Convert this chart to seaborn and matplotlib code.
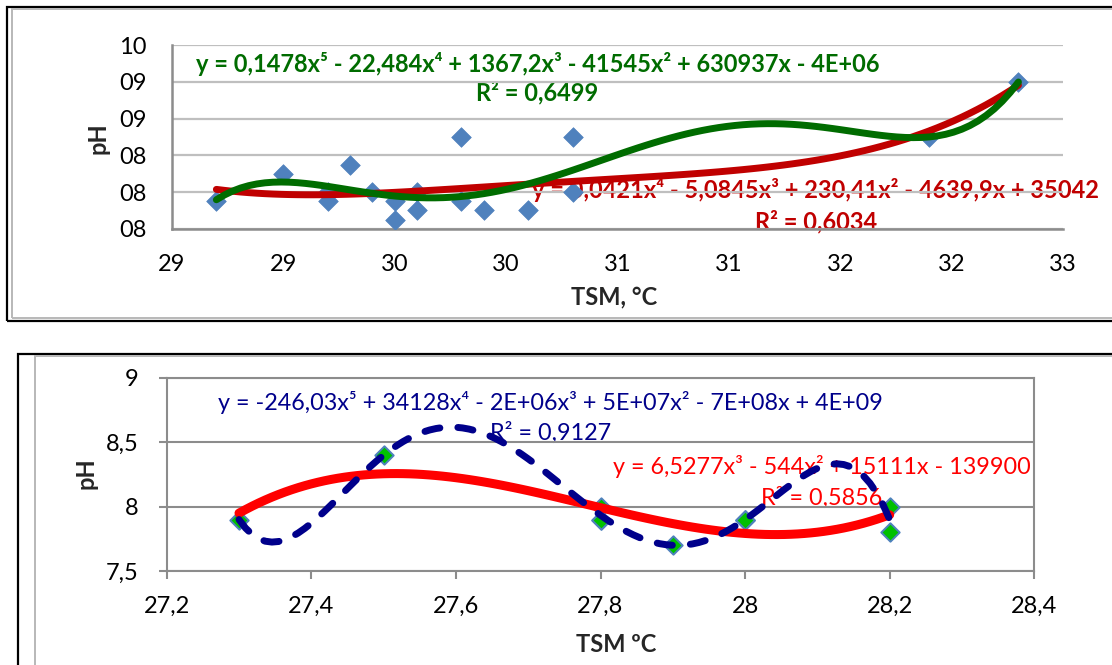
import matplotlib
matplotlib.use("Agg")
import matplotlib.pyplot as plt
import seaborn as sns
from matplotlib.patches import Rectangle

# ---------------- data ----------------
# top chart: TSM (°C) vs pH
tsm_top = [28.7, 29.0, 29.2, 29.2, 29.3, 29.4, 29.5, 29.5, 29.6, 29.6,
           29.8, 29.8, 29.9, 30.1, 30.3, 30.3, 31.9, 32.3]
ph_top = [7.9, 8.2, 8.0, 7.9, 8.3, 8.0, 7.9, 7.7, 8.0, 7.8,
          8.6, 7.9, 7.8, 7.8, 8.6, 8.0, 8.6, 9.2]
top_xticks = [28.5, 29.0, 29.5, 30.0, 30.5, 31.0, 31.5, 32.0, 32.5]
top_xlabels = ["29", "29", "30", "30", "31", "31", "32", "32", "33"]
top_yticks = [7.6, 8.0, 8.4, 8.8, 9.2, 9.6]
top_ylabels = ["08", "08", "08", "09", "09", "10"]
top_eq5 = "y = 0,1478x⁵ - 22,484x⁴ + 1367,2x³ - 41545x² + 630937x - 4E+06"
top_r5 = "R² = 0,6499"
top_eq4 = "y = 0,0421x⁴ - 5,0845x³ + 230,41x² - 4639,9x + 35042"
top_r4 = "R² = 0,6034"
top_xlabel = "TSM, °C"

# bottom chart (some points coincide)
tsm_bot = [27.3, 27.5, 27.8, 27.8, 27.8, 27.9, 28.0, 28.0, 28.0, 28.2, 28.2]
ph_bot = [7.9, 8.4, 8.0, 7.9, 7.9, 7.7, 7.9, 7.9, 7.9, 8.0, 7.8]
bot_xticks = [27.2, 27.4, 27.6, 27.8, 28.0, 28.2, 28.4]
bot_xlabels = ["27,2", "27,4", "27,6", "27,8", "28", "28,2", "28,4"]
bot_yticks = [7.5, 8.0, 8.5, 9.0]
bot_ylabels = ["7,5", "8", "8,5", "9"]
bot_eq5 = "y = -246,03x⁵ + 34128x⁴ - 2E+06x³ + 5E+07x² - 7E+08x + 4E+09"
bot_r5 = "R² = 0,9127"
bot_eq3 = "y = 6,5277x³ - 544x² + 15111x - 139900"
bot_r3 = "R² = 0,5856"
bot_xlabel = "TSM ºC"

# ---------------- style ----------------
sns.set_theme(style="white")
plt.rcParams["font.family"] = ["Lato", "DejaVu Sans"]

W, H = 1112, 665
fig = plt.figure(figsize=(W / 100, H / 100), dpi=100)
fig.patch.set_facecolor("white")


def fx(x):
    return x / W


def fy(y):
    return 1 - y / H


def frac_rect(x0, y0, x1, y1):
    return [fx(x0), fy(y1), fx(x1) - fx(x0), fy(y0) - fy(y1)]


# frames
fig.add_artist(Rectangle((fx(7), fy(321)), fx(1130) - fx(7), fy(7) - fy(321),
                         transform=fig.transFigure, fill=False, ec="black", lw=1.6))
fig.add_artist(Rectangle((fx(12), fy(318.5)), fx(1130) - fx(12), fy(9.5) - fy(318.5),
                         transform=fig.transFigure, fill=False, ec="#b8b8b8", lw=1.4))
fig.add_artist(Rectangle((fx(17.5), fy(700)), fx(1130) - fx(17.5), fy(353.5) - fy(700),
                         transform=fig.transFigure, fill=False, ec="black", lw=1.6))
fig.add_artist(Rectangle((fx(35), fy(700)), fx(1130) - fx(35), fy(356) - fy(700),
                         transform=fig.transFigure, fill=False, ec="#b8b8b8", lw=1.4))

FS = 17

# ---------------- top chart ----------------
ax1 = fig.add_axes(frac_rect(171.8, 45.3, 1063, 228.7))
sns.scatterplot(x=tsm_top, y=ph_top, marker="D", s=100, color="#4F81BD",
                edgecolor="#4F81BD", linewidth=0.5, ax=ax1, zorder=3)
sns.regplot(x=tsm_top, y=ph_top, order=4, ci=None, scatter=False, truncate=True,
            line_kws=dict(color="#C00000", lw=5, solid_capstyle="round", zorder=4), ax=ax1)
sns.regplot(x=tsm_top, y=ph_top, order=5, ci=None, scatter=False, truncate=True,
            line_kws=dict(color="#006C00", lw=5, solid_capstyle="round", zorder=5), ax=ax1)
ax1.set_xlim(top_xticks[0], top_xticks[-1])
ax1.set_ylim(top_yticks[0], top_yticks[-1])
ax1.set_xticks(top_xticks)
ax1.set_xticklabels(top_xlabels)
ax1.set_yticks(top_yticks)
ax1.set_yticklabels(top_ylabels)
ax1.set_axisbelow(True)
ax1.grid(axis="y", color="#BFBFBF", lw=1.6)
ax1.grid(axis="x", visible=False)
for s in ["top", "right"]:
    ax1.spines[s].set_visible(False)
for s in ["left", "bottom"]:
    ax1.spines[s].set_color("#8C8C8C")
    ax1.spines[s].set_linewidth(1.8)
ax1.tick_params(axis="both", length=0, labelsize=FS, colors="black")
ax1.tick_params(axis="y", pad=18)
ax1.tick_params(axis="x", pad=18)
ax1.set_xlabel("")
ax1.set_ylabel("")

fig.text(fx(98), fy(138), "pH", rotation=90, fontsize=FS, fontweight="bold",
         ha="center", va="center")
fig.text(fx(614), fy(297), top_xlabel, fontsize=FS, fontweight="bold",
         ha="center", va="center")
ax1.text(fx(537.5), fy(64), top_eq5, fontsize=17, fontweight="bold", color="#006C00",
         ha="center", va="center", transform=fig.transFigure, zorder=0.4)
ax1.text(fx(537.5), fy(93), top_r5, fontsize=17, fontweight="bold", color="#006C00",
         ha="center", va="center", transform=fig.transFigure, zorder=0.4)
ax1.text(fx(815), fy(190), top_eq4, fontsize=17, fontweight="bold", color="#C00000",
         ha="center", va="center", transform=fig.transFigure, zorder=0.4)
ax1.text(fx(816), fy(222), top_r4, fontsize=17, fontweight="bold", color="#C00000",
         ha="center", va="center", transform=fig.transFigure, zorder=0.4)

# ---------------- bottom chart ----------------
ax2 = fig.add_axes(frac_rect(166.7, 378, 1034.3, 571))
sns.scatterplot(x=tsm_bot, y=ph_bot, marker="D", s=88, color="#00C000",
                edgecolor="#4F81BD", linewidth=1.4, ax=ax2, zorder=3)
sns.regplot(x=tsm_bot, y=ph_bot, order=3, ci=None, scatter=False, truncate=True,
            line_kws=dict(color="#FF0000", lw=6.5, solid_capstyle="round", zorder=4), ax=ax2)
sns.regplot(x=tsm_bot, y=ph_bot, order=5, ci=None, scatter=False, truncate=True,
            line_kws=dict(color="#00008B", lw=5, dashes=(2.2, 2.6),
                          dash_capstyle="round", zorder=5), ax=ax2)
ax2.set_xlim(bot_xticks[0], bot_xticks[-1])
ax2.set_ylim(bot_yticks[0], bot_yticks[-1])
ax2.set_xticks(bot_xticks)
ax2.set_xticklabels(bot_xlabels)
ax2.set_yticks(bot_yticks)
ax2.set_yticklabels(bot_ylabels)
ax2.set_axisbelow(True)
ax2.grid(axis="y", color="#8C8C8C", lw=1.5)
ax2.grid(axis="x", visible=False)
for s in ["top", "right", "left", "bottom"]:
    ax2.spines[s].set_visible(True)
    ax2.spines[s].set_color("#8C8C8C")
    ax2.spines[s].set_linewidth(1.5)
ax2.tick_params(axis="both", direction="out", length=6, width=1.5,
                color="#8C8C8C", labelsize=FS, labelcolor="black",
                bottom=True, left=True)
ax2.tick_params(axis="y", pad=14)
ax2.tick_params(axis="x", pad=12)
ax2.set_xlabel("")
ax2.set_ylabel("")

fig.text(fx(86), fy(473), "pH", rotation=90, fontsize=FS, fontweight="bold",
         ha="center", va="center")
fig.text(fx(616), fy(645), bot_xlabel, fontsize=FS, fontweight="bold",
         ha="center", va="center")
ax2.text(fx(550.6), fy(402), bot_eq5, fontsize=16.8, color="#00008B",
         ha="center", va="center", transform=fig.transFigure, zorder=0.4)
ax2.text(fx(551), fy(433), bot_r5, fontsize=16.8, color="#00008B",
         ha="center", va="center", transform=fig.transFigure, zorder=0.4)
ax2.text(fx(821.5), fy(466), bot_eq3, fontsize=16.8, color="#FF0000",
         ha="center", va="center", transform=fig.transFigure, zorder=0.4)
ax2.text(fx(821.5), fy(498), bot_r3, fontsize=16.8, color="#FF0000",
         ha="center", va="center", transform=fig.transFigure, zorder=0.4)

fig.savefig("out.png", dpi=100, facecolor="white")
